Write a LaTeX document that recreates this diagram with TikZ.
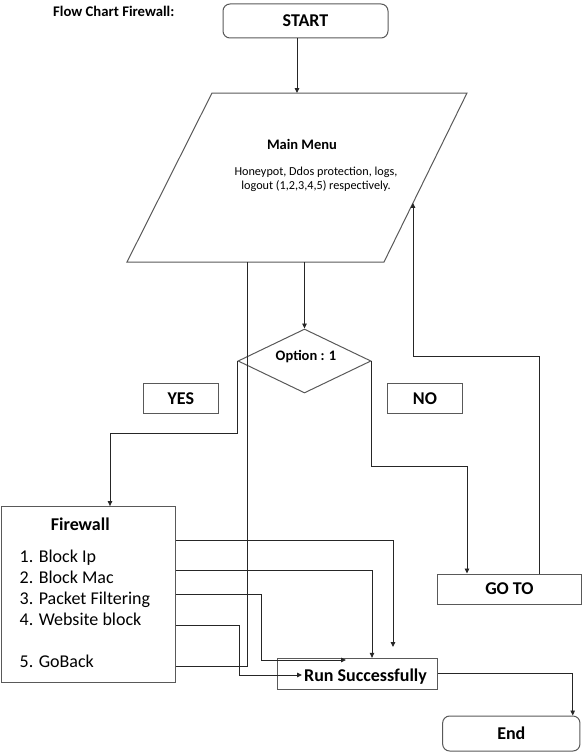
\documentclass[tikz,border=0pt]{standalone}
\usepackage{fontspec}
\setmainfont{Carlito}
\usetikzlibrary{shapes.geometric,arrows.meta,calc}
\begin{document}
\begin{tikzpicture}[x=1pt,y=-1pt,
  shp/.style={draw=black!65,line width=1pt},
  box/.style={shp,rectangle,inner sep=0pt},
  rbox/.style={box,rounded corners=7pt},
  conn/.style={draw=black!85,line width=0.9pt},
  arr/.style={conn,-{Triangle[length=5pt,width=4.5pt]}},
  big/.style={font=\bfseries\fontsize{18}{21}\selectfont},
  mid/.style={font=\bfseries\fontsize{14.5}{17}\selectfont},
  small/.style={font=\fontsize{12.2}{14.5}\selectfont},
  item/.style={font=\fontsize{18}{21}\selectfont,anchor=base west,inner sep=0pt}]
\useasboundingbox (0,0) rectangle (584,752);

% title
\node[font=\bfseries\fontsize{14.7}{17}\selectfont,anchor=base west,inner sep=0pt] (title) at (53,17) {Flow Chart Firewall:};

% start
\node[rbox,minimum width=165,minimum height=34,big] (start) at (305.5,21) {START};

% main menu parallelogram
\coordinate (pTL) at (212,93);
\coordinate (pTR) at (467,93);
\coordinate (pBR) at (384,262);
\coordinate (pBL) at (127,262);
\draw[shp] (pTL) -- (pTR) -- (pBR) -- (pBL) -- cycle;
\node[mid,anchor=base] (menut) at (302,149) {Main Menu};
\node[small,anchor=base] (menu1) at (316,175.5) {Honeypot, Ddos protection, logs,};
\node[small,anchor=base] (menu2) at (316,189.5) {logout (1,2,3,4,5) respectively.};

% decision
\node[shp,diamond,aspect=2,inner sep=0pt,minimum width=133,minimum height=64] (dia) at (304.5,361) {};
\node[mid] (diat) at (306,357) {Option : 1};

% yes / no labels
\node[box,minimum width=75,minimum height=30,big] (yes) at (180.8,398.3) {YES};
\node[box,minimum width=74.6,minimum height=30,big] (no) at (425,398.3) {NO};

% firewall box
\node[box,minimum width=174,minimum height=176] (fw) at (88.7,594.6) {};
\node[big] (fwt) at (80.3,524) {Firewall};
\node[item] (i1) at (19.5,562.7) {1. Block Ip};
\node[item] (i2) at (19.5,583.5) {2. Block Mac};
\node[item] (i3) at (19.5,604.3) {3. Packet Filtering};
\node[item] (i4) at (19.5,625.3) {4. Website block};
\node[item] (i5) at (19.5,667.7) {5. GoBack};

% run successfully
\node[box,minimum width=160.4,minimum height=30.7] (run) at (357.5,673.7) {};
\node[big,anchor=base,inner sep=0pt] (runt) at (365.5,681.5) {Run Successfully};

% go to
\node[box,minimum width=143.8,minimum height=30,big] (goto) at (509.4,589) {GO TO};

% end
\node[rbox,minimum width=137.3,minimum height=35,big] (end) at (511.3,733.5) {End};

% connectors
\coordinate (m1) at (297,93);
\draw[arr] (start.south -| m1) -- (m1);
\coordinate (m2) at (dia.north |- pBL);
\draw[arr] (m2) -- (dia.north);

\coordinate (y1) at (110,433);
\draw[arr] (dia.west) |- (y1) -- (y1 |- fw.north);

\coordinate (n1) at (467,466);
\draw[arr] (dia.east) |- (n1) -- (n1 |- goto.north);

\coordinate (g1) at (539.3,356.5);
\coordinate (g2) at ($(pTR)!0.6506!(pBR)$);
\draw[arr] (goto.north -| g1) -- (g1) -| (g2);

\coordinate (r1) at (393,540.7);
\coordinate (t1) at (393,647);
\draw[arr] (fw.east |- r1) -- (r1) -- (t1);

\coordinate (r2) at (372,570);
\draw[arr] (fw.east |- r2) -- (r2) -- (r2 |- run.north);

\coordinate (r3) at (261,594);
\coordinate (t3) at (346,660);
\draw[arr] (fw.east |- r3) -- (r3) |- (t3);

\coordinate (r4) at (239.3,625.5);
\coordinate (t4) at (302,675);
\draw[arr] (fw.east |- r4) -- (r4) |- (t4);

\coordinate (gb) at (247.7,666.5);
\draw[conn] (fw.east |- gb) -- (gb) -- (gb |- pBL);

\coordinate (e1) at (572.7,674);
\draw[arr] (run.east) -| (end.north -| e1);
\end{tikzpicture}
\end{document}
